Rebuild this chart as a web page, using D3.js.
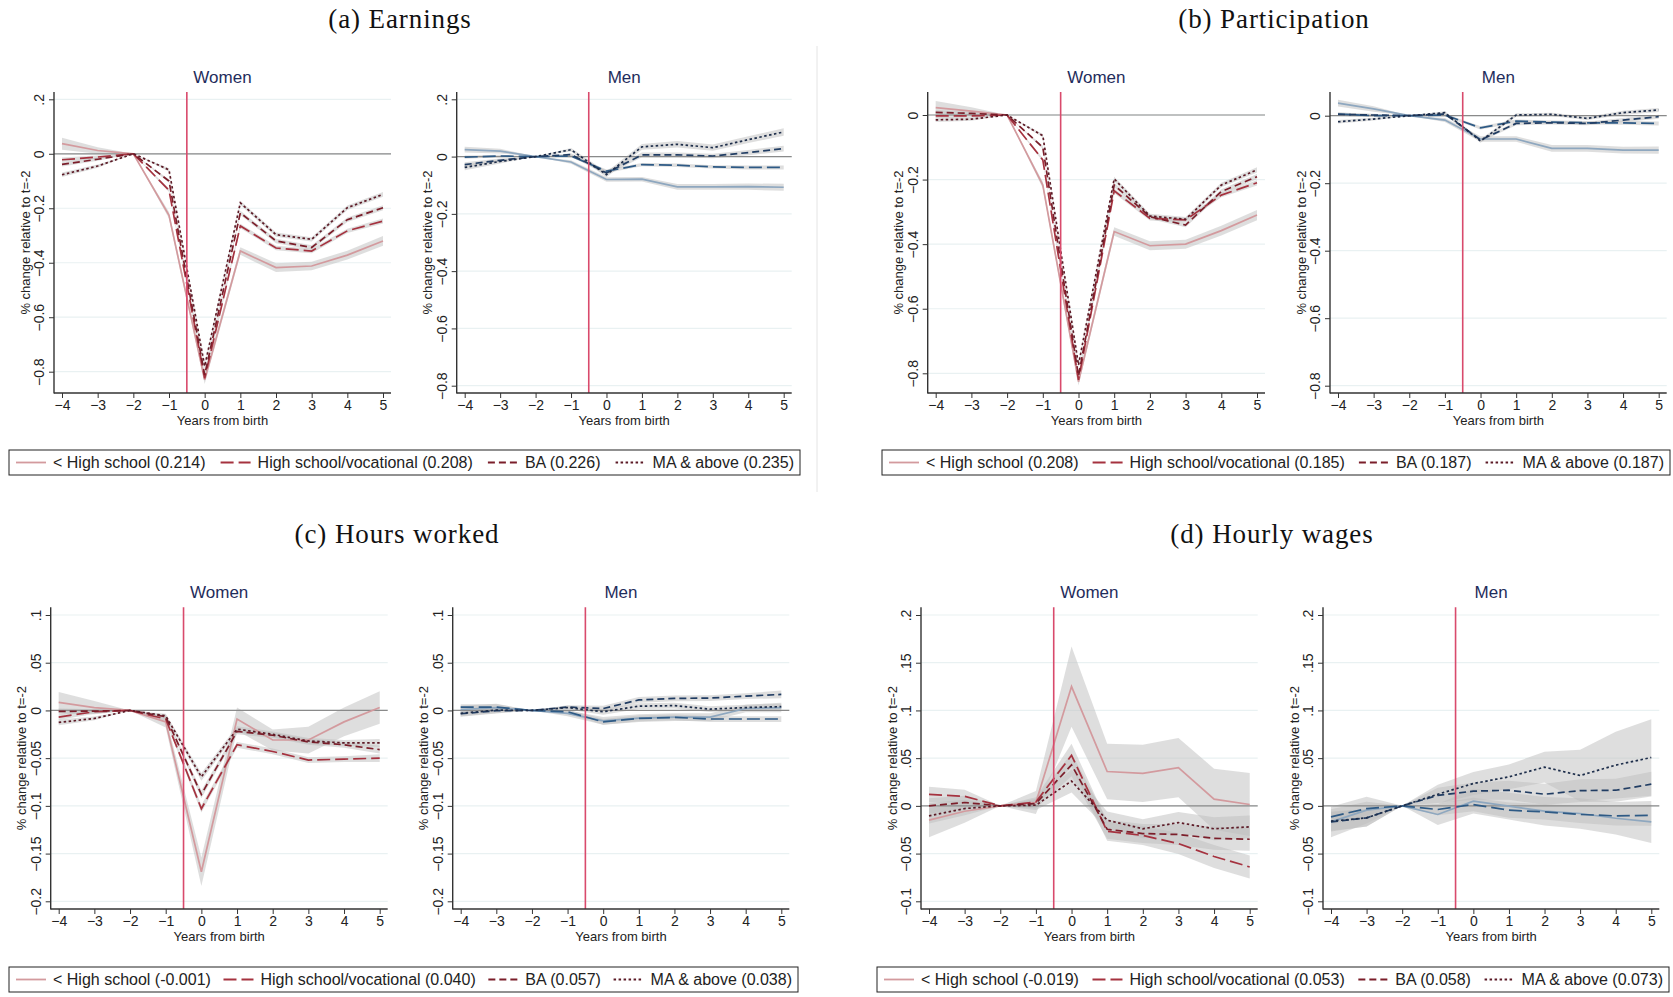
<!DOCTYPE html>
<html>
<head>
<meta charset="utf-8">
<script src="https://cdn.jsdelivr.net/npm/d3@7"></script>
<style>
  body { margin: 0; background: #fff; }
  svg { display: block; }
  .tick text { font-family: "Liberation Sans", Arial, sans-serif; font-size: 14px; fill: #222; }
</style>
</head>
<body>
<svg id="chart" width="1673" height="997"></svg>
<script>
// ---- data ----
var years = [-4, -3, -2, -1, 0, 1, 2, 3, 4, 5];
var eduGroups = ["< High school", "High school/vocational", "BA", "MA & above"];

// (a) earnings
var earnWomen = [
  [0.037, 0.012, 0, -0.226, -0.830, -0.357, -0.418, -0.412, -0.372, -0.320],
  [-0.022, -0.012, 0, -0.134, -0.824, -0.265, -0.346, -0.357, -0.283, -0.247],
  [-0.039, -0.020, 0, -0.100, -0.812, -0.217, -0.320, -0.344, -0.242, -0.198],
  [-0.077, -0.045, 0, -0.059, -0.780, -0.180, -0.297, -0.314, -0.198, -0.149]
];
var earnWomenCI = [
  [0.022, 0.012, 0, 0.012, 0.015, 0.014, 0.016, 0.016, 0.016, 0.018],
  [0.008, 0.006, 0, 0.006, 0.010, 0.008, 0.008, 0.008, 0.008, 0.009],
  [0.008, 0.006, 0, 0.006, 0.010, 0.008, 0.008, 0.008, 0.008, 0.009],
  [0.008, 0.006, 0, 0.006, 0.010, 0.008, 0.008, 0.008, 0.008, 0.009]
];
var earnMen = [
  [0.024, 0.019, 0, -0.019, -0.080, -0.079, -0.106, -0.106, -0.105, -0.107],
  [-0.002, 0.002, 0, 0.002, -0.051, -0.028, -0.030, -0.036, -0.038, -0.038],
  [-0.028, -0.013, 0, 0.007, -0.057, 0.006, 0.006, 0.002, 0.014, 0.028],
  [-0.038, -0.017, 0, 0.024, -0.063, 0.034, 0.043, 0.031, 0.059, 0.086]
];
var earnMenCI = [
  [0.010, 0.008, 0, 0.006, 0.008, 0.008, 0.010, 0.010, 0.011, 0.012],
  [0.006, 0.004, 0, 0.004, 0.006, 0.006, 0.006, 0.006, 0.007, 0.007],
  [0.008, 0.006, 0, 0.005, 0.008, 0.008, 0.008, 0.008, 0.009, 0.010],
  [0.010, 0.007, 0, 0.006, 0.009, 0.010, 0.011, 0.011, 0.012, 0.013]
];

// (b) participation
var partWomen = [
  [0.023, 0.012, 0, -0.217, -0.826, -0.361, -0.405, -0.400, -0.358, -0.310],
  [-0.003, -0.003, 0, -0.139, -0.820, -0.235, -0.320, -0.325, -0.248, -0.210],
  [0.008, 0.005, 0, -0.100, -0.808, -0.217, -0.315, -0.341, -0.237, -0.191],
  [-0.015, -0.013, 0, -0.064, -0.774, -0.198, -0.313, -0.323, -0.217, -0.170]
];
var partWomenCI = [
  [0.020, 0.012, 0, 0.010, 0.012, 0.013, 0.014, 0.014, 0.015, 0.016],
  [0.007, 0.005, 0, 0.005, 0.008, 0.007, 0.007, 0.007, 0.007, 0.008],
  [0.007, 0.005, 0, 0.005, 0.008, 0.007, 0.007, 0.007, 0.007, 0.008],
  [0.007, 0.005, 0, 0.005, 0.008, 0.007, 0.007, 0.007, 0.007, 0.008]
];
var partMen = [
  [0.037, 0.020, 0, -0.013, -0.069, -0.069, -0.097, -0.097, -0.102, -0.102],
  [0.005, 0.000, 0, 0.002, -0.036, -0.016, -0.019, -0.021, -0.021, -0.023],
  [0.004, 0.002, 0, 0.005, -0.072, -0.023, -0.021, -0.023, -0.013, -0.003],
  [-0.018, -0.010, 0, 0.009, -0.075, 0.002, 0.004, -0.008, 0.009, 0.017]
];
var partMenCI = [
  [0.010, 0.008, 0, 0.006, 0.008, 0.008, 0.010, 0.010, 0.010, 0.011],
  [0.005, 0.004, 0, 0.004, 0.005, 0.005, 0.005, 0.005, 0.006, 0.006],
  [0.005, 0.004, 0, 0.004, 0.005, 0.005, 0.005, 0.005, 0.006, 0.006],
  [0.005, 0.004, 0, 0.004, 0.005, 0.005, 0.005, 0.005, 0.006, 0.006]
];

// (c) hours worked
var hoursWomen = [
  [0.0084, 0.0030, 0, -0.0120, -0.1690, -0.0090, -0.0310, -0.0310, -0.0120, 0.0030],
  [-0.0070, -0.0014, 0, -0.0090, -0.1030, -0.0360, -0.0430, -0.0520, -0.0510, -0.0500],
  [-0.0010, -0.0007, 0, -0.0066, -0.0880, -0.0220, -0.0260, -0.0330, -0.0360, -0.0410],
  [-0.0126, -0.0084, 0, -0.0056, -0.0696, -0.0196, -0.0250, -0.0320, -0.0340, -0.0340]
];
var hoursWomenCI = [
  [0.011, 0.007, 0, 0.006, 0.015, 0.012, 0.011, 0.014, 0.015, 0.017],
  [0.003, 0.002, 0, 0.002, 0.004, 0.003, 0.003, 0.003, 0.003, 0.004],
  [0.003, 0.002, 0, 0.002, 0.004, 0.003, 0.003, 0.003, 0.003, 0.004],
  [0.003, 0.002, 0, 0.002, 0.004, 0.003, 0.003, 0.003, 0.003, 0.004]
];
var hoursMen = [
  [0.0010, 0.0030, 0, -0.0030, -0.0110, -0.0080, -0.0070, -0.0070, 0.0020, 0.0030],
  [0.0035, 0.0035, 0, -0.0014, -0.0120, -0.0084, -0.0073, -0.0090, -0.0090, -0.0090],
  [-0.0035, -0.0003, 0, 0.0035, 0.0020, 0.0110, 0.0126, 0.0130, 0.0150, 0.0168],
  [-0.0030, 0.0003, 0, 0.0030, -0.0014, 0.0045, 0.0050, 0.0014, 0.0030, 0.0040]
];
var hoursMenCI = [
  [0.004, 0.004, 0, 0.003, 0.004, 0.004, 0.004, 0.004, 0.004, 0.005],
  [0.003, 0.003, 0, 0.002, 0.003, 0.003, 0.003, 0.003, 0.003, 0.003],
  [0.003, 0.003, 0, 0.002, 0.003, 0.003, 0.003, 0.003, 0.003, 0.004],
  [0.003, 0.003, 0, 0.002, 0.003, 0.003, 0.003, 0.003, 0.003, 0.003]
];

// (d) hourly wages
var wageWomen = [
  [-0.0150, -0.0056, 0, 0.0035, 0.1250, 0.0360, 0.0340, 0.0400, 0.0070, 0.0014],
  [0.0120, 0.0100, 0, 0.0040, 0.0530, -0.0266, -0.0310, -0.0395, -0.0530, -0.0640],
  [0.0000, 0.0035, 0, 0.0025, 0.0430, -0.0245, -0.0290, -0.0300, -0.0340, -0.0350],
  [-0.0105, -0.0028, 0, 0.0007, 0.0260, -0.0150, -0.0240, -0.0175, -0.0240, -0.0220]
];
var wageWomenCI = [
  [0.018, 0.012, 0, 0.012, 0.042, 0.029, 0.030, 0.031, 0.032, 0.033],
  [0.008, 0.007, 0, 0.005, 0.012, 0.010, 0.010, 0.011, 0.012, 0.012],
  [0.008, 0.007, 0, 0.005, 0.012, 0.010, 0.010, 0.011, 0.012, 0.012],
  [0.008, 0.007, 0, 0.005, 0.012, 0.009, 0.010, 0.011, 0.012, 0.012]
];
var wageMen = [
  [-0.0168, -0.0045, 0, -0.0090, 0.0050, -0.0003, -0.0056, -0.0080, -0.0130, -0.0168],
  [-0.0115, -0.0028, 0, -0.0038, 0.0014, -0.0045, -0.0063, -0.0090, -0.0105, -0.0098],
  [-0.0168, -0.0126, 0, 0.0110, 0.0154, 0.0164, 0.0122, 0.0160, 0.0164, 0.0227],
  [-0.0160, -0.0126, 0, 0.0122, 0.0234, 0.0304, 0.0406, 0.0318, 0.0427, 0.0507]
];
var wageMenCI = [
  [0.016, 0.014, 0, 0.011, 0.013, 0.014, 0.015, 0.016, 0.017, 0.022],
  [0.008, 0.007, 0, 0.006, 0.007, 0.008, 0.008, 0.009, 0.010, 0.011],
  [0.010, 0.009, 0, 0.008, 0.009, 0.010, 0.011, 0.012, 0.012, 0.013],
  [0.010, 0.009, 0, 0.010, 0.012, 0.013, 0.016, 0.027, 0.035, 0.040]
];

var earnLegend = ["0.214", "0.208", "0.226", "0.235"];
var partLegend = ["0.208", "0.185", "0.187", "0.187"];
var hoursLegend = ["-0.001", "0.040", "0.057", "0.038"];
var wageLegend = ["-0.019", "0.053", "0.058", "0.073"];

var earnTicks = [0.2, 0, -0.2, -0.4, -0.6, -0.8];
var partTicks = [0, -0.2, -0.4, -0.6, -0.8];
var hoursTicks = [0.1, 0.05, 0, -0.05, -0.1, -0.15, -0.2];
var wageTicks = [0.2, 0.15, 0.1, 0.05, 0, -0.05, -0.1];

// ---- styles ----
var womenColors = ["#d39a9e", "#a5323f", "#7b1e2a", "#5c1a26"];
var menColors = ["#8ea7bf", "#2e5a85", "#213d63", "#1d2d4a"];
var dashes = [null, "13,5", "7,4", "2.5,2.5"];
var sansFont = '"Liberation Sans", Arial, sans-serif';
var serifFont = '"Liberation Serif", "Times New Roman", serif';

// ---- panel layout ----
var panels = [
  {title: "(a) Earnings", tx: 400, ty: 28, legend: earnLegend, lx: 9, ly: 450, lw: 791, parts: [
    {sex: "Women", values: earnWomen, ci: earnWomenCI, ax: 54, right: 391, top: 92, bottom: 393, ydom: [0.2, -0.8], yr: [99.3, 371.7], ticks: earnTicks},
    {sex: "Men", values: earnMen, ci: earnMenCI, ax: 456.7, right: 791.7, top: 92, bottom: 393, ydom: [0.2, -0.8], yr: [99.3, 385.7], ticks: earnTicks}
  ]},
  {title: "(b) Participation", tx: 1274, ty: 28, legend: partLegend, lx: 882, ly: 450, lw: 788, parts: [
    {sex: "Women", values: partWomen, ci: partWomenCI, ax: 927.7, right: 1265, top: 92, bottom: 393, ydom: [0, -0.8], yr: [115, 373.3], ticks: partTicks},
    {sex: "Men", values: partMen, ci: partMenCI, ax: 1330, right: 1666.7, top: 92, bottom: 393, ydom: [0, -0.8], yr: [115.7, 385.7], ticks: partTicks}
  ]},
  {title: "(c) Hours worked", tx: 397, ty: 543, legend: hoursLegend, lx: 9, ly: 967, lw: 789, parts: [
    {sex: "Women", values: hoursWomen, ci: hoursWomenCI, ax: 50.7, right: 387.7, top: 607.3, bottom: 909, ydom: [0.1, -0.2], yr: [615, 901.3], ticks: hoursTicks},
    {sex: "Men", values: hoursMen, ci: hoursMenCI, ax: 452.7, right: 789.3, top: 607.3, bottom: 909, ydom: [0.1, -0.2], yr: [615, 901.3], ticks: hoursTicks}
  ]},
  {title: "(d) Hourly wages", tx: 1272, ty: 543, legend: wageLegend, lx: 877, ly: 967, lw: 792, parts: [
    {sex: "Women", values: wageWomen, ci: wageWomenCI, ax: 921, right: 1257.7, top: 607.3, bottom: 909, ydom: [0.2, -0.1], yr: [615, 901.3], ticks: wageTicks},
    {sex: "Men", values: wageMen, ci: wageMenCI, ax: 1323, right: 1659.3, top: 607.3, bottom: 909, ydom: [0.2, -0.1], yr: [615, 901.3], ticks: wageTicks}
  ]}
];

var svg = d3.select("#chart");

// faint divider between the two top figures
svg.append("line")
  .attr("x1", 817).attr("x2", 817).attr("y1", 46).attr("y2", 492)
  .attr("stroke", "#e4e4e4").attr("stroke-width", 1);

// stata style tick labels: .2, -.05 etc
function stataFmt(v) {
  if (v === 0) return "0";
  var s = d3.format("~g")(+v.toFixed(3));
  return s.replace(/^(-?)0\./, "$1.");
}

function drawPart(p) {
  var g = svg.append("g");
  var colors = p.sex === "Women" ? womenColors : menColors;
  var x = d3.scaleLinear().domain([-4, 5]).range([p.ax + 8, p.right - 8]);
  var y = d3.scaleLinear().domain(p.ydom).range(p.yr);

  // grid
  g.selectAll(".grid").data(p.ticks).enter().append("line")
    .attr("x1", p.ax).attr("x2", p.right)
    .attr("y1", function(d) { return y(d); }).attr("y2", function(d) { return y(d); })
    .attr("stroke", "#e9f1f2").attr("stroke-width", 1.2);

  // confidence bands
  p.values.forEach(function(vals, i) {
    var area = d3.area()
      .x(function(d, j) { return x(years[j]); })
      .y0(function(d, j) { return y(d - p.ci[i][j]); })
      .y1(function(d, j) { return y(d + p.ci[i][j]); });
    g.append("path").datum(vals).attr("d", area)
      .attr("fill", "#bdbdbd").attr("fill-opacity", 0.5);
  });

  // zero line
  g.append("line")
    .attr("x1", p.ax).attr("x2", p.right).attr("y1", y(0)).attr("y2", y(0))
    .attr("stroke", "#8a8a8a").attr("stroke-width", 1.2);

  // estimates
  var line = d3.line().x(function(d, j) { return x(years[j]); }).y(function(d) { return y(d); });
  p.values.forEach(function(vals, i) {
    g.append("path").datum(vals).attr("d", line)
      .attr("fill", "none")
      .attr("stroke", colors[i])
      .attr("stroke-width", 1.7)
      .attr("stroke-dasharray", dashes[i]);
  });

  // birth marker
  g.append("line")
    .attr("x1", x(-0.5)).attr("x2", x(-0.5)).attr("y1", p.top).attr("y2", p.bottom)
    .attr("stroke", "#d94a6c").attr("stroke-width", 1.6);

  // axes
  var xAxis = g.append("g").attr("transform", "translate(0," + p.bottom + ")")
    .call(d3.axisBottom(x).tickValues(years).tickSize(5).tickSizeOuter(0).tickFormat(d3.format("d")));
  xAxis.select(".domain").remove();
  xAxis.selectAll(".tick line").attr("stroke", "#333");
  xAxis.selectAll(".tick text").attr("y", 7);

  var yAxis = g.append("g").attr("transform", "translate(" + p.ax + ",0)")
    .call(d3.axisLeft(y).tickValues(p.ticks).tickSize(5).tickSizeOuter(0).tickFormat(stataFmt));
  yAxis.select(".domain").remove();
  yAxis.selectAll(".tick line").attr("stroke", "#333");
  yAxis.selectAll(".tick text")
    .attr("x", null).attr("dy", null)
    .attr("text-anchor", "middle")
    .attr("dominant-baseline", "central")
    .attr("transform", "translate(-15,0) rotate(-90)");

  g.append("line").attr("x1", p.ax).attr("x2", p.ax).attr("y1", p.top).attr("y2", p.bottom + 0.5)
    .attr("stroke", "#333").attr("stroke-width", 1.4);
  g.append("line").attr("x1", p.ax).attr("x2", p.right).attr("y1", p.bottom).attr("y2", p.bottom)
    .attr("stroke", "#333").attr("stroke-width", 1.4);

  // titles
  g.append("text")
    .attr("x", (p.ax + p.right) / 2).attr("y", p.top - 15)
    .attr("text-anchor", "middle").attr("dominant-baseline", "central")
    .style("font-family", sansFont).style("font-size", "17px").style("fill", "#1f2d5c")
    .text(p.sex);
  g.append("text")
    .attr("x", (p.ax + p.right) / 2).attr("y", p.bottom + 27)
    .attr("text-anchor", "middle").attr("dominant-baseline", "central")
    .style("font-family", sansFont).style("font-size", "13px").style("fill", "#222")
    .text("Years from birth");
  g.append("text")
    .attr("transform", "translate(" + (p.ax - 29) + "," + ((p.top + p.bottom) / 2) + ") rotate(-90)")
    .attr("text-anchor", "middle").attr("dominant-baseline", "central")
    .style("font-family", sansFont).style("font-size", "13px").style("fill", "#222")
    .text("% change relative to t=-2");
}

function drawLegend(panel) {
  var g = svg.append("g").attr("transform", "translate(" + panel.lx + "," + panel.ly + ")");
  g.append("rect").attr("x", 0).attr("y", 0).attr("width", panel.lw).attr("height", 25)
    .attr("fill", "#fff").attr("stroke", "#222").attr("stroke-width", 1);
  var items = eduGroups.map(function(name, i) {
    var sample = g.append("line").attr("y1", 12.5).attr("y2", 12.5)
      .attr("stroke", womenColors[i]).attr("stroke-width", 1.8)
      .attr("stroke-dasharray", dashes[i]);
    var t = g.append("text").attr("y", 12.5)
      .attr("dominant-baseline", "central")
      .style("font-family", sansFont).style("font-size", "16px").style("fill", "#222")
      .text(name + " (" + panel.legend[i] + ")");
    return {sample: sample, text: t, w: t.node().getComputedTextLength()};
  });
  // spread the items over the box like stata does
  var used = d3.sum(items, function(d) { return 37 + d.w; });
  var gap = (panel.lw - 7 - 6 - used) / (items.length - 1);
  var cx = 7;
  items.forEach(function(it) {
    it.sample.attr("x1", cx).attr("x2", cx + 30);
    it.text.attr("x", cx + 37);
    cx += 37 + it.w + gap;
  });
}

panels.forEach(function(panel) {
  svg.append("text")
    .attr("x", panel.tx).attr("y", panel.ty)
    .attr("text-anchor", "middle")
    .style("font-family", serifFont).style("font-size", "27px").style("letter-spacing", "0.9px").style("fill", "#111")
    .text(panel.title);
  panel.parts.forEach(drawPart);
  drawLegend(panel);
});
</script>
</body>
</html>
